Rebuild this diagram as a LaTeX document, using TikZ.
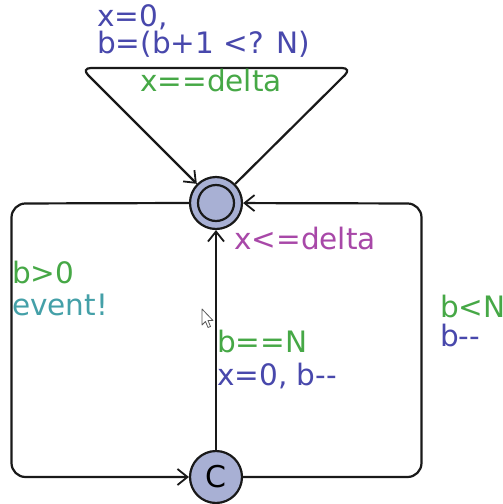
\documentclass[tikz,border=0pt]{standalone}
\usepackage{fontspec}
\setmainfont{DejaVu Sans}
\usetikzlibrary{arrows.meta,positioning}
\definecolor{locfill}{RGB}{168,176,212}
\definecolor{guardcol}{RGB}{70,168,70}
\definecolor{updcol}{RGB}{72,72,172}
\definecolor{synccol}{RGB}{68,160,168}
\definecolor{invcol}{RGB}{168,72,168}
\definecolor{edgecol}{RGB}{25,25,25}
\tikzset{
  loc/.style={circle, draw=edgecol, fill=locfill, line width=2.2pt, minimum size=52pt, inner sep=0pt},
  edge/.style={draw=edgecol, line width=2.2pt, rounded corners=14pt,
    -{Straight Barb[length=10pt,width=16pt,line width=1.8pt]}},
  lbl/.style={anchor=base west, inner sep=0pt, font=\fontsize{29.5}{29.5}\selectfont},
  guard/.style={lbl, text=guardcol},
  upd/.style={lbl, text=updcol},
  sync/.style={lbl, text=synccol},
  inv/.style={lbl, text=invcol}
}
\begin{document}
\begin{tikzpicture}[x=1pt,y=-1pt]
        \useasboundingbox (0,0) rectangle (503,504);
        \fill[white] (0,0) rectangle (503,504);
        %Locations
        \node[loc] (init) at (216,203) {};
        \draw[edgecol, line width=2.2pt] (init) circle(18pt);
        \node[loc, font=\fontsize{30}{30}\selectfont] (comm) at (216,477) {C};
        %Corners
        \coordinate (loopR) at (352,68);
        \coordinate (loopL) at (81,68);
        \coordinate (nw) at (11.5,203.5);
        \coordinate (sw) at (11.5,477);
        \coordinate (se) at (421.5,477);
        \coordinate (ne) at (421.5,203.5);
        %Edges
        \draw[edge, rounded corners=10pt] (init) -- (loopR) -- (loopL) -- (init);
        \draw[edge] (init.west) -- (nw) -- (sw) -- (comm);
        \draw[edge] (comm) -- (init);
        \draw[edge] (comm.east) -- (se) -- (ne) -- (init);
        %Labels
        \node[upd] (u1a) at (97,26) {x=0,};
        \node[upd] (u1b) at (97,53) {b=(b+1 <? N)};
        \node[guard] (g1) at (140,91) {x==delta};
        \node[inv] (i1) at (234,249) {x<=delta};
        \node[guard] (g2) at (12,283) {b>0};
        \node[sync] (s2) at (12,315) {event!};
        \node[guard] (g3) at (217,352) {b==N};
        \node[upd] (u3) at (217,385) {x=0, b-{}-};
        \node[guard] (g4) at (440,317) {b<N};
        \node[upd] (u4) at (440,346) {b-{}-};
        %Pointer
        \draw[black!65, fill=white, line width=0.8pt, line join=round]
          (202,309) -- (202,325) -- (205.5,321.5) -- (208,327.5) -- (210.5,326.5)
          -- (208,320.5) -- (213,320.5) -- cycle;
\end{tikzpicture}
\end{document}
